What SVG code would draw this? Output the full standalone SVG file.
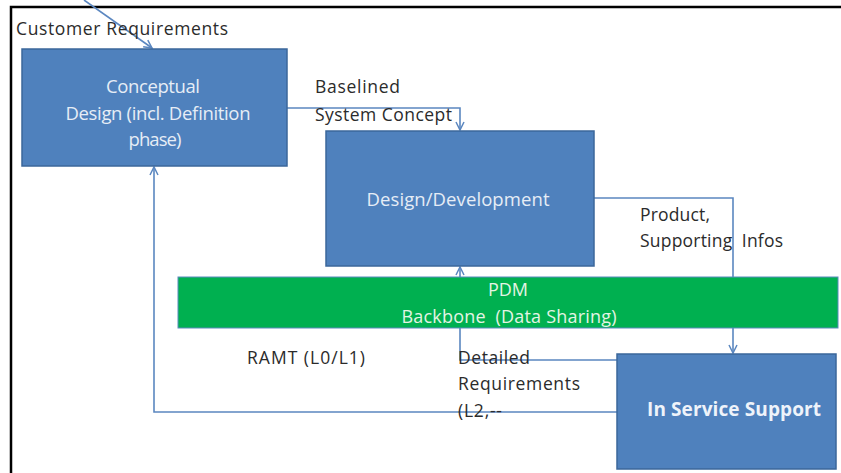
<svg xmlns="http://www.w3.org/2000/svg" width="841" height="473" viewBox="0 0 841 473">
<style>
.box{fill:#4f81bd;stroke:#3b679b;stroke-width:1.5}
.bar{fill:#00b050;stroke:#5b8bbd;stroke-width:1}
.conn{fill:none;stroke:#5b87c0;stroke-width:1.6}
.lbl{font-family:"Open Sans","Liberation Sans",sans-serif;font-size:17.5px;fill:#2b2b2b}
.bt{font-family:"Open Sans","Liberation Sans",sans-serif;font-size:18.5px;fill:#e6edf6;text-anchor:middle}
.bb{font-family:"Open Sans","Liberation Sans",sans-serif;font-size:19px;font-weight:bold;fill:#eef3fa;text-anchor:middle}
.gt{font-family:"Open Sans","Liberation Sans",sans-serif;font-size:18px;fill:#e4f4e4;text-anchor:middle}
</style>
<defs>
<marker id="arr" markerUnits="userSpaceOnUse" markerWidth="12" markerHeight="12" refX="9" refY="5" orient="auto">
<path d="M1,1 L9,5 L1,9" fill="none" stroke="#5b87c0" stroke-width="1.5"/>
</marker>
</defs>
<rect x="0" y="0" width="841" height="473" fill="#ffffff"/>
<path d="M11,480 L11,7 L850,7" fill="none" stroke="#000" stroke-width="2.5"/>
<g id="connectors">
<line class="conn" x1="84" y1="0" x2="152" y2="48" marker-end="url(#arr)"/>
<polyline class="conn" points="287,108 460,108 460,130" marker-end="url(#arr)"/>
<polyline class="conn" points="594,198 733,198 733,353" marker-end="url(#arr)"/>
<polyline class="conn" points="617,360 460,360 460,267" marker-end="url(#arr)"/>
<polyline class="conn" points="617,412 154,412 154,167" marker-end="url(#arr)"/>
</g>
<g id="customer-requirements">
<text class="lbl" x="16" y="35" textLength="212">Customer Requirements</text>
</g>
<g id="conceptual-design">
<rect class="box" x="22" y="49" width="265" height="117"/>
<text class="bt" x="153" y="93" textLength="94">Conceptual</text>
<text class="bt" x="158" y="120" textLength="185">Design (incl. Definition</text>
<text class="bt" x="155" y="146" textLength="53">phase)</text>
</g>
<g id="baselined-label">
<text class="lbl" x="315" y="93" textLength="85">Baselined</text>
<text class="lbl" x="315" y="121" textLength="137">System Concept</text>
</g>
<g id="design-development">
<rect class="box" x="326" y="131" width="268" height="135"/>
<text class="bt" x="458" y="206" textLength="183">Design/Development</text>
</g>
<g id="product-label">
<text class="lbl" x="640" y="221" textLength="70">Product,</text>
<text class="lbl" x="640" y="247" textLength="143" xml:space="preserve">Supporting  Infos</text>
</g>
<g id="pdm-backbone">
<rect class="bar" x="178" y="277" width="660" height="51"/>
<text class="gt" x="508" y="296" textLength="40">PDM</text>
<text class="gt" x="509" y="323" textLength="215" xml:space="preserve">Backbone  (Data Sharing)</text>
</g>
<g id="ramt-label">
<text class="lbl" x="247" y="364" textLength="118">RAMT (L0/L1)</text>
</g>
<g id="detailed-label">
<text class="lbl" x="458" y="364" textLength="72">Detailed</text>
<text class="lbl" x="458" y="390" textLength="122">Requirements</text>
<text class="lbl" x="458" y="417" textLength="44">(L2,--</text>
</g>
<g id="in-service-support">
<rect class="box" x="617" y="354" width="219" height="115"/>
<text class="bb" x="734" y="416" textLength="174">In Service Support</text>
</g>
</svg>
